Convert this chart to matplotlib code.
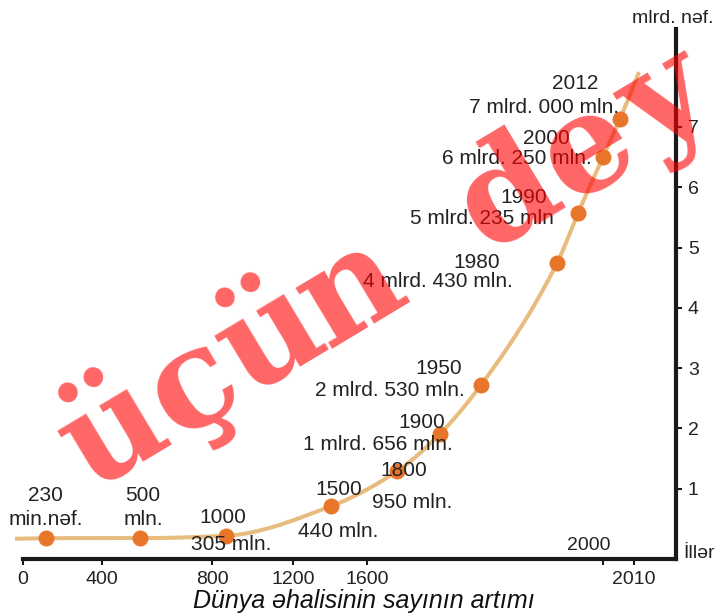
import numpy as np
import matplotlib
matplotlib.use('Agg')
import matplotlib.pyplot as plt

# ---------------- data ----------------
label_top = ['230', '500', '1000', '1500', '1800', '1900', '1950', '1980', '1990', '2000', '2012']
label_bottom = ['min.nəf.', 'mln.', '305 mln.', '440 mln.', '950 mln.', '1 mlrd. 656 mln.',
                '2 mlrd. 530 mln.', '4 mlrd. 430 mln.', '5 mlrd. 235 mln', '6 mlrd. 250 mln.',
                '7 mlrd. 000 mln.']
# schematic horizontal position of each point (the time axis is not linear)
point_pos = [46, 140, 226, 331, 397, 440, 481, 557, 578, 603, 620]
# plotted height of each point, mlrd. people
point_val = [0.18, 0.18, 0.22, 0.71, 1.29, 1.91, 2.72, 4.74, 5.57, 6.50, 7.13]
# the curve runs a little beyond the first and last point
curve_start = (15, 0.17)
curve_end = (639, 7.91)

xtick_pos = [23, 102, 212, 293, 367, 603, 634]
xtick_labels = ['0', '400', '800', '1200', '1600', '', '2010']
ytick_vals = [1, 2, 3, 4, 5, 6, 7]

watermark = 'üçün dey'

# label offsets in pixels (dx, dy) from each point: (top line, bottom line)
top_off = [(-1, -37), (3, -37), (-3.5, -13), (8, -11), (7, 5), (-18, -6), (-42, -11),
           (-80, 5), (-54, -10), (-57, -13), (-45, -30)]
bot_off = [(0, -13), (3, -13), (5, 14), (7, 31), (15, 37), (-62, 16), (-91, 11),
           (-119, 24), (-96, 11), (-86, 7), (-76, -6)]

# ---------------- layout ----------------
W, H = 722, 614
Y0PX, PXU = 549.0, 60.3          # pixel row of value 0, pixels per unit


def yv(py):
    return (Y0PX - py) / PXU


plt.rcParams['font.family'] = ['Liberation Sans', 'DejaVu Sans']
fig = plt.figure(figsize=(W / 100, H / 100), dpi=100)
ax = fig.add_axes([0, 0, 1, 1])
ax.set_xlim(0, W)
ax.set_ylim(yv(H), yv(0))
ax.patch.set_visible(False)

TXT = '#222222'
AX = '#1a1a1a'

# spines
for s in ['top', 'left']:
    ax.spines[s].set_visible(False)
ax.spines['bottom'].set_position(('data', yv(559)))
ax.spines['bottom'].set_bounds(23, 676)
ax.spines['right'].set_position(('data', 676))
ax.spines['right'].set_bounds(yv(559), yv(29))
for s in ['bottom', 'right']:
    ax.spines[s].set_linewidth(3.0)
    ax.spines[s].set_color(AX)
    ax.spines[s].set_capstyle('projecting')

ax.set_xticks(xtick_pos, xtick_labels)
ax.yaxis.tick_right()
ax.set_yticks(ytick_vals, [str(v) for v in ytick_vals])
ax.tick_params(axis='x', direction='out', length=4, width=1.5, color=AX,
               labelsize=14, labelcolor=TXT, pad=5)
ax.tick_params(axis='y', direction='out', length=4.5, width=1.5, color=AX,
               labelsize=14, labelcolor=TXT, pad=4)

# ---------------- curve (monotone cubic through the points) ----------------
cx = np.array([curve_start[0]] + point_pos + [curve_end[0]], float)
cy = np.array([curve_start[1]] + point_val + [curve_end[1]], float)


def pchip(x, y, xs):
    h = np.diff(x)
    d = np.diff(y) / h
    n = len(x)
    m = np.zeros(n)
    m[0], m[-1] = d[0], d[-1]
    for k in range(1, n - 1):
        if d[k - 1] * d[k] <= 0:
            m[k] = 0.0
        else:
            w1 = 2 * h[k] + h[k - 1]
            w2 = h[k] + 2 * h[k - 1]
            m[k] = (w1 + w2) / (w1 / d[k - 1] + w2 / d[k])
    idx = np.clip(np.searchsorted(x, xs) - 1, 0, n - 2)
    t = (xs - x[idx]) / h[idx]
    h00 = 2 * t**3 - 3 * t**2 + 1
    h10 = t**3 - 2 * t**2 + t
    h01 = -2 * t**3 + 3 * t**2
    h11 = t**3 - t**2
    return h00 * y[idx] + h10 * h[idx] * m[idx] + h01 * y[idx + 1] + h11 * h[idx] * m[idx + 1]


xs = np.linspace(cx[0], cx[-1], 800)
ax.plot(xs, pchip(cx, cy, xs), color='#e8bb7e', lw=2.9, solid_capstyle='butt', zorder=2,
        clip_on=False)
ax.plot(point_pos, point_val, 'o', ms=11.5, color='#e8762a', mec='none', zorder=3)

# ---------------- labels ----------------
for i in range(len(point_pos)):
    for txt, (dx, dy) in ((label_top[i], top_off[i]), (label_bottom[i], bot_off[i])):
        ax.annotate(txt, (point_pos[i], point_val[i]), xytext=(dx, -dy),
                    textcoords='offset pixels', ha='center', va='baseline',
                    fontsize=15, color=TXT, zorder=4)

ax.text(589, yv(550), '2000', ha='center', va='baseline', fontsize=14, color=TXT)
ax.text(683, yv(558), 'İllər', ha='left', va='baseline', fontsize=14, color=TXT)
ax.text(673, yv(23), 'mlrd. nəf.', ha='center', va='baseline', fontsize=14, color=TXT)
ax.text(364, yv(608), 'Dünya əhalisinin sayının artımı', ha='center', va='baseline',
        fontsize=18, style='italic', color='#111111')

# watermark: monospaced letters placed along a slanted baseline
ANG, ADV = 31.0, 92.0
bx, by = 133.0, 466.0      # baseline centre of the first letter (pixels)
ca, sa = np.cos(np.radians(ANG)), np.sin(np.radians(ANG))
for k, ch in enumerate(watermark):
    if ch == ' ':
        continue
    px, py = bx + k * ADV * ca, by - k * ADV * sa
    ax.text(px, yv(py), ch, rotation=ANG, rotation_mode='anchor',
            ha='center', va='baseline', fontsize=98, fontweight='bold',
            family='DejaVu Serif', color='red', alpha=0.6,
            zorder=10, clip_on=False)

fig.savefig('out.png', dpi=100)
